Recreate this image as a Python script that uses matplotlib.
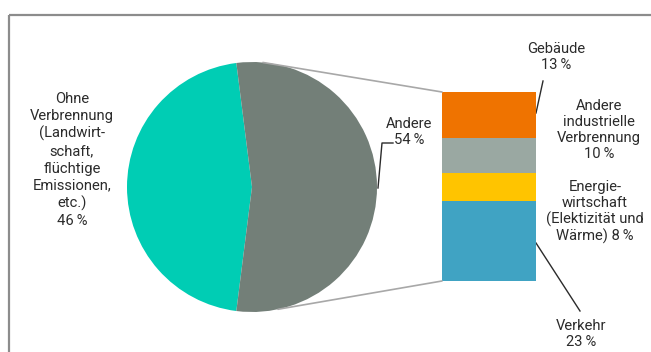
import matplotlib
matplotlib.use("Agg")
import matplotlib.pyplot as plt
from matplotlib.patches import ConnectionPatch
import numpy as np

plt.rcParams.update({
    "font.family": ["Roboto", "DejaVu Sans"],
    "font.size": 10.6,
    "text.color": "#2b2b2b",
})

# ── data ──
pie_labels = ["Ohne Verbrennung", "Andere"]
pie_values = [46, 54]
pie_colors = ["#00cdb4", "#737f78"]

# stacked bar, bottom to top
bar_labels = ["Verkehr", "Energiewirtschaft", "Andere industrielle Verbrennung", "Gebäude"]
bar_values = [23, 8, 10, 13]
bar_colors = ["#40a3c3", "#ffc400", "#9aa8a2", "#ef7300"]

W, H = 651, 352
fig = plt.figure(figsize=(W / 100, H / 100), dpi=100)

# overlay in pixel coordinates for frame, labels and leader lines
ov = fig.add_axes([0, 0, 1, 1])
ov.set_xlim(0, W)
ov.set_ylim(H, 0)
ov.axis("off")

C_FRAME = "#8c8c8c"
C_LEAD = "#2b2b2b"
C_CONN = "#a8a8a8"

ov.plot([9, W], [15, 15], color=C_FRAME, lw=1.6, solid_capstyle="butt")
ov.plot([9, 9], [15, H], color=C_FRAME, lw=1.6, solid_capstyle="butt")

# ── pie: green slice centred on the left ──
cx, cy, r = 252, 187, 125
ax_pie = fig.add_axes([(cx - r) / W, (H - cy - r) / H, 2 * r / W, 2 * r / H])
start = 180 - 360 * pie_values[0] / sum(pie_values) / 2
wedges, _ = ax_pie.pie(pie_values, colors=pie_colors, startangle=start,
                       counterclock=True, radius=1,
                       wedgeprops=dict(linewidth=0, edgecolor="none"))
ax_pie.set_xlim(-1, 1)
ax_pie.set_ylim(-1, 1)
ax_pie.set_aspect("equal")
ax_pie.axis("off")

# ── bar of pie ──
bx0, bx1, by0, by1 = 442, 536, 92, 281
ax_bar = fig.add_axes([bx0 / W, (H - by1) / H, (bx1 - bx0) / W, (by1 - by0) / H])
bottom = 0
for val, col in zip(bar_values, bar_colors):
    ax_bar.bar(0, val, width=1, bottom=bottom, color=col, linewidth=0)
    bottom += val
ax_bar.set_xlim(-0.5, 0.5)
ax_bar.set_ylim(0, sum(bar_values))
ax_bar.axis("off")

# connector lines from pie to bar
for ang, yb in [(85, sum(bar_values)), (-78, 0)]:
    t = np.deg2rad(ang)
    con = ConnectionPatch(xyA=(-0.5, yb), coordsA=ax_bar.transData,
                          xyB=(np.cos(t), np.sin(t)), coordsB=ax_pie.transData,
                          color=C_CONN, lw=1.2)
    fig.add_artist(con)

# ── labels ──
ls = 1.18
ov.text(72, 160, "Ohne\nVerbrennung\n(Landwirt-\nschaft,\nflüchtige\nEmissionen,\netc.)\n46\u2009%",
        ha="center", va="center", linespacing=1.28)
ov.text(409, 132, "Andere\n54\u2009%", ha="center", va="center", linespacing=ls)
ov.plot([378, 382, 393], [188, 143, 143], color=C_LEAD, lw=1)

ov.text(556, 57, "Gebäude\n13\u2009%", ha="center", va="center", linespacing=ls)
ov.plot([536, 543], [113, 81], color=C_LEAD, lw=1)

ov.text(599, 130, "Andere\nindustrielle\nVerbrennung\n10\u2009%", ha="center", va="center",
        linespacing=ls)
ov.text(595, 212, "Energie-\nwirtschaft\n(Elektizität und\nWärme) 8\u2009%", ha="center",
        va="center", linespacing=ls)

ov.text(581, 334, "Verkehr\n23\u2009%", ha="center", va="center", linespacing=ls)
ov.plot([536, 580], [243, 311], color=C_LEAD, lw=1)

fig.savefig("out.png", dpi=100, facecolor="white")
plt.close(fig)
